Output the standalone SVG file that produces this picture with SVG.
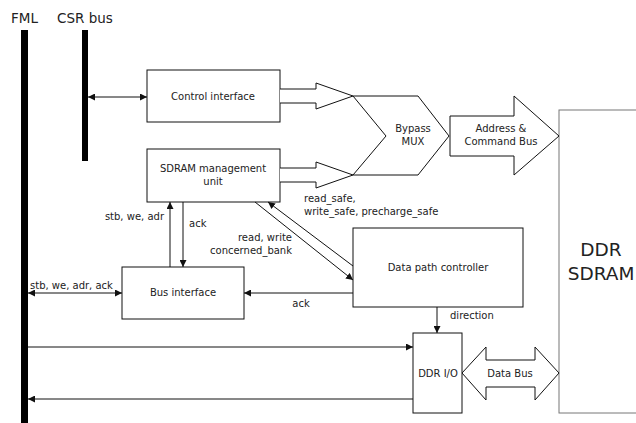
<svg xmlns="http://www.w3.org/2000/svg" width="636" height="423" viewBox="0 0 636 423">
<defs>
<marker id="ah" viewBox="0 0 10 10" refX="10" refY="5" markerWidth="7" markerHeight="7" markerUnits="userSpaceOnUse" orient="auto-start-reverse">
<path d="M0,0 L10,5 L0,10 z" fill="#111"/>
</marker>
</defs>
<style>
text{font-family:"DejaVu Sans","Noto Sans",sans-serif;fill:#222;font-size:10px}
.c{text-anchor:middle}
.r{text-anchor:end}
.box{fill:#fff;stroke:#111;stroke-width:1}
.big{fill:#fff;stroke:#111;stroke-width:1;stroke-linejoin:miter}
.ln{fill:none;stroke:#111;stroke-width:1}
.arr{marker-end:url(#ah)}
.both{marker-start:url(#ah);marker-end:url(#ah)}
.bus{fill:#000}
.hdr{font-size:13.5px}
</style>
<rect width="636" height="423" fill="#fff"/>

<g id="fml">
<rect class="bus" x="21" y="30" width="7" height="393"/>
<text class="hdr c" x="24.5" y="23">FML</text>
</g>
<g id="csr">
<rect class="bus" x="82" y="30" width="6" height="131"/>
<text class="hdr" x="57" y="23">CSR bus</text>
</g>

<g id="ddr-sdram">
<rect x="559" y="110" width="90" height="303" fill="#fff" stroke="#777" stroke-width="1"/>
<text class="c" x="601" y="256" style="font-size:18.5px">DDR</text>
<text class="c" x="601" y="280" style="font-size:18.5px">SDRAM</text>
</g>

<g id="bypass-mux">
<path class="big" d="M353,96 L418,96 L449,136 L418,175 L353,175 L386,136 Z"/>
<text class="c" x="413" y="132">Bypass</text>
<text class="c" x="413" y="145">MUX</text>
</g>

<g id="addr-cmd-bus">
<path class="big" d="M450,116 L514,116 L514,96 L559,136 L514,175 L514,156 L450,156 Z"/>
<text class="c" x="501" y="132">Address &amp;</text>
<text class="c" x="501" y="145">Command Bus</text>
</g>

<g id="data-bus">
<path class="big" d="M462,373 L486,347 L486,360 L535,360 L535,347 L559,373 L535,400 L535,387 L486,387 L486,400 Z"/>
<text class="c" x="510" y="377">Data Bus</text>
</g>

<g id="control-interface">
<rect class="box" x="147" y="70" width="133" height="52"/>
<text class="c" x="213" y="100">Control interface</text>
</g>

<g id="sdram-mgmt">
<rect class="box" x="147" y="149" width="133" height="53"/>
<text class="c" x="213" y="172">SDRAM management</text>
<text class="c" x="213" y="185">unit</text>
</g>

<g id="bus-interface">
<rect class="box" x="122" y="267" width="122" height="52"/>
<text class="c" x="183" y="296">Bus interface</text>
</g>

<g id="data-path-controller">
<rect class="box" x="353" y="228" width="170" height="79"/>
<text class="c" x="438" y="271">Data path controller</text>
</g>

<g id="ddr-io">
<rect class="box" x="413" y="333" width="49" height="80"/>
<text class="c" x="438" y="377">DDR I/O</text>
</g>

<g id="connectors">
<!-- wide arrows into MUX -->
<path class="big" d="M280,89 L316,89 L316,83 L353,96 L316,109 L316,103 L280,103"/>
<path class="big" d="M280,168 L316,168 L316,162 L353,175 L316,188 L316,182 L280,182"/>
<!-- CSR <-> control -->
<line class="ln both" x1="88" y1="97" x2="147" y2="97"/>
<!-- bus iface -> sdram -->
<line class="ln arr" x1="170" y1="267" x2="170" y2="202"/>
<line class="ln arr" x1="183" y1="202" x2="183" y2="267"/>
<!-- diagonal -->
<line class="ln arr" x1="255" y1="202" x2="353" y2="280"/>
<line class="ln arr" x1="353" y1="266" x2="268" y2="202"/>
<!-- DPC -> bus iface ack -->
<line class="ln arr" x1="353" y1="293" x2="244" y2="293"/>
<!-- FML <-> bus iface -->
<line class="ln both" x1="28" y1="293" x2="122" y2="293"/>
<!-- direction -->
<line class="ln arr" x1="437" y1="307" x2="437" y2="333"/>
<!-- FML <-> DDR I/O -->
<line class="ln arr" x1="28" y1="347" x2="413" y2="347"/>
<line class="ln arr" x1="413" y1="399" x2="28" y2="399"/>

<text x="304" y="202">read_safe,</text>
<text x="304" y="215">write_safe, precharge_safe</text>
<text class="r" x="292" y="241">read, write</text>
<text class="r" x="292" y="254">concerned_bank</text>
<text class="r" x="164" y="220">stb, we, adr</text>
<text x="189" y="227">ack</text>
<text class="c" x="301" y="307">ack</text>
<text x="30" y="289">stb, we, adr, ack</text>
<text x="450" y="319">direction</text>
</g>
</svg>
